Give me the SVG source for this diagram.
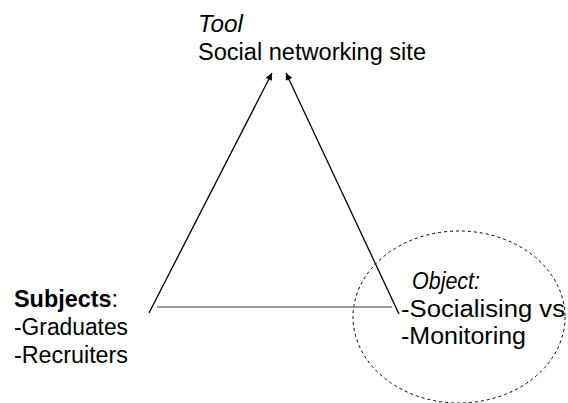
<svg xmlns="http://www.w3.org/2000/svg" width="568" height="403" viewBox="0 0 568 403">
<style>
text{font-family:"Liberation Sans",Arial,sans-serif;font-size:23px;fill:#000}
.it{font-style:italic}
.b{font-weight:bold}
.arr{stroke:#000;stroke-width:1.3;fill:none}
</style>
<defs>
<marker id="ah" viewBox="0 0 10 10" refX="10" refY="5" markerWidth="9" markerHeight="7" markerUnits="userSpaceOnUse" orient="auto">
<path d="M0,0 L10,5 L0,10 z" fill="#000"/>
</marker>
</defs>
<rect width="568" height="403" fill="#fff"/>
<g id="object-ellipse">
<ellipse cx="459" cy="317" rx="106" ry="86" fill="none" stroke="#000" stroke-width="1" stroke-dasharray="3,3"/>
</g>
<g id="connectors">
<line class="arr" x1="149" y1="313" x2="272" y2="73" marker-end="url(#ah)"/>
<line class="arr" x1="399" y1="314" x2="286" y2="73" marker-end="url(#ah)"/>
<line x1="157" y1="307" x2="392" y2="307" stroke="#777" stroke-width="1.5"/>
</g>
<g id="tool">
<text x="198" y="32" class="it" textLength="45" lengthAdjust="spacingAndGlyphs">Tool</text>
<text x="198" y="60" textLength="228" lengthAdjust="spacingAndGlyphs">Social networking site</text>
</g>
<g id="subjects">
<text x="14" y="307" textLength="104" lengthAdjust="spacingAndGlyphs"><tspan class="b">Subjects</tspan>:</text>
<text x="14" y="335" textLength="114" lengthAdjust="spacingAndGlyphs">-Graduates</text>
<text x="14" y="363" textLength="114" lengthAdjust="spacingAndGlyphs">-Recruiters</text>
</g>
<g id="object">
<text x="412" y="289" class="it" font-size="22" textLength="68" lengthAdjust="spacingAndGlyphs">Object:</text>
<text x="401" y="317" textLength="164" lengthAdjust="spacingAndGlyphs">-Socialising vs</text>
<text x="401" y="344" textLength="125" lengthAdjust="spacingAndGlyphs">-Monitoring</text>
</g>
</svg>
